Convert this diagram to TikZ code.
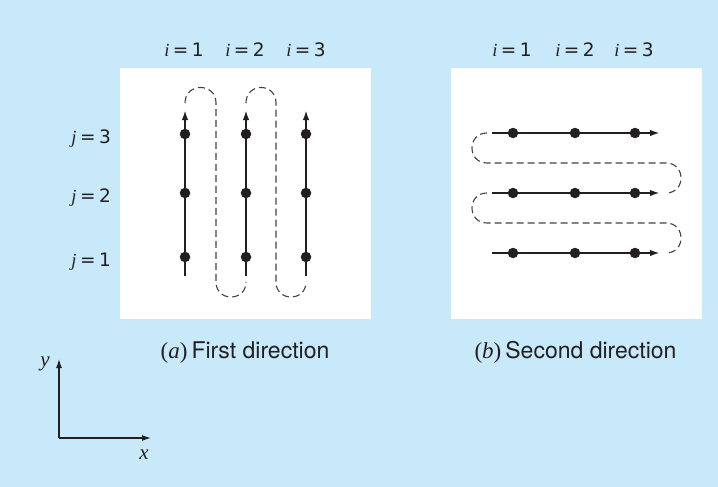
\documentclass[tikz,border=0pt]{standalone}
\usepackage{fontspec}
\setmainfont{TeX Gyre Heros}
\newfontfamily\tms{Liberation Serif}
\newfontfamily\lbl{DejaVu Sans}
\usetikzlibrary{arrows.meta}
\definecolor{bgblue}{RGB}{199,233,249}
\definecolor{ink}{RGB}{35,31,32}
\begin{document}
\begin{tikzpicture}[x=1pt,y=-1pt,
  solidline/.style={line width=2.6pt,draw=ink,-{Latex[length=10pt,width=6.5pt]}},
  dashline/.style={line width=1.1pt,draw=ink!85,dash pattern=on 7pt off 4pt},
  axisline/.style={line width=1.3pt,draw=ink,-{Latex[length=9pt,width=6pt]}},
  dot/.style={circle,fill=ink,inner sep=0pt,minimum size=10.5pt},
  lab/.style={font=\fontsize{18.5}{22}\selectfont\lbl,text=ink,anchor=base,inner sep=0pt},
  captext/.style={font=\fontsize{23}{27}\selectfont,text=ink,anchor=base,inner sep=0pt},
  axlab/.style={font=\fontsize{21}{24}\selectfont\tms\itshape,text=ink,anchor=base,inner sep=0pt},
]
\fill[bgblue] (0,0) rectangle (718,487);
\useasboundingbox (0,0) rectangle (718,487);
\fill[white] (120,68) rectangle (371,319);
\fill[white] (451,68) rectangle (702,319);

% ---- left panel: columns
\foreach \c/\x in {1/185,2/246,3/306}{
  \coordinate (ab\c) at (\x,276);
  \coordinate (at\c) at (\x,110);
  \draw[solidline] (ab\c) -- (at\c);
  \node[dot] (ad\c1) at (\x,257) {};
  \node[dot] (ad\c2) at (\x,193) {};
  \node[dot] (ad\c3) at (\x,134) {};
}
\draw[dashline] (185,103) .. controls (185,82.3) and (216,82.3) .. (216,103)
   -- (216,282) .. controls (216,302) and (246,302) .. (246,282);
\draw[dashline] (246,103) .. controls (246,82.3) and (276,82.3) .. (276,103)
   -- (276,282) .. controls (276,302) and (306,302) .. (306,282);

\node[lab] (li1) at (184,56.7) {{\tms\itshape i}\hspace{3.5pt}=\hspace{3.5pt}1};
\node[lab] (li2) at (245,56.7) {{\tms\itshape i}\hspace{3.5pt}=\hspace{3.5pt}2};
\node[lab] (li3) at (306,56.7) {{\tms\itshape i}\hspace{3.5pt}=\hspace{3.5pt}3};
\node[lab,anchor=base east] (lj3) at (111,143) {{\tms\itshape j}\hspace{3.5pt}=\hspace{3.5pt}3};
\node[lab,anchor=base east] (lj2) at (111,202) {{\tms\itshape j}\hspace{3.5pt}=\hspace{3.5pt}2};
\node[lab,anchor=base east] (lj1) at (111,266) {{\tms\itshape j}\hspace{3.5pt}=\hspace{3.5pt}1};

% ---- right panel: rows
\foreach \r/\y in {1/253,2/193,3/133}{
  \coordinate (bs\r) at (492,\y);
  \coordinate (be\r) at (660,\y);
  \draw[solidline] (bs\r) -- (be\r);
  \node[dot] (bd1\r) at (513,\y) {};
  \node[dot] (bd2\r) at (575,\y) {};
  \node[dot] (bd3\r) at (635,\y) {};
}
\draw[dashline] (487,133) .. controls (467,133) and (467,163) .. (487,163)
   -- (666,163) .. controls (686,163) and (686,193) .. (666,193);
\draw[dashline] (487,193) .. controls (467,193) and (467,223) .. (487,223)
   -- (666,223) .. controls (686,223) and (686,253) .. (666,253);

\node[lab] (ri1) at (512,57) {{\tms\itshape i}\hspace{3.5pt}=\hspace{3.5pt}1};
\node[lab] (ri2) at (575,57) {{\tms\itshape i}\hspace{3.5pt}=\hspace{3.5pt}2};
\node[lab] (ri3) at (634,57) {{\tms\itshape i}\hspace{3.5pt}=\hspace{3.5pt}3};

% ---- captions
\node[captext] (capa) at (245,358) {{\tms(\textit{a})}\hspace{4pt}First direction};
\node[captext] (capb) at (575.5,358) {{\tms(\textit{b})}\hspace{4pt}Second direction};

% ---- axes
\coordinate (O) at (59,438);
\coordinate (ytip) at (59,359);
\coordinate (xtip) at (151,438);
\draw[axisline] (O) -- (ytip);
\draw[axisline] (O) -- (xtip);
\node[axlab] (ylab) at (45,366) {y};
\node[axlab] (xlab) at (144,459) {x};
\end{tikzpicture}
\end{document}
